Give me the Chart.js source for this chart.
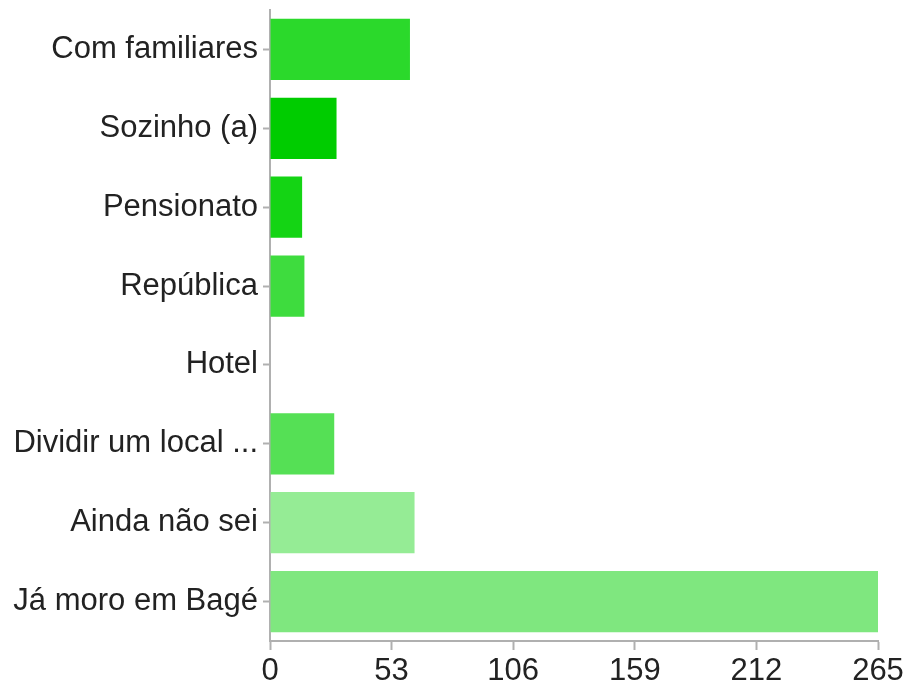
<!DOCTYPE html>
<html>
<head>
<meta charset="utf-8">
<script src="https://cdn.jsdelivr.net/npm/chart.js@4"></script>
<style>
html,body{margin:0;padding:0;background:#fff;}
#wrap{width:908px;height:685px;position:relative;}
</style>
</head>
<body>
<div id="wrap"><canvas id="c"></canvas></div>
<script>
const categories = ["Com familiares","Sozinho (a)","Pensionato","República","Hotel","Dividir um local ...","Ainda não sei","Já moro em Bagé"];
const values = [61, 29, 14, 15, 0, 28, 63, 265];
const barColors = ["#2bd92b","#00cc00","#14d414","#3edc3e","#2bd92b","#55e055","#95ec95","#7fe77f"];
const xTicks = [0, 53, 106, 159, 212, 265];

const axisColor = "#b0b0b0";
const font = {family: "'Liberation Sans', Arial, Helvetica, sans-serif", size: 31};

new Chart(document.getElementById('c'), {
  type: 'bar',
  data: {
    labels: categories,
    datasets: [{
      data: values,
      backgroundColor: barColors,
      borderWidth: 0,
      barPercentage: 0.775,
      categoryPercentage: 1.0
    }]
  },
  options: {
    indexAxis: 'y',
    responsive: true,
    maintainAspectRatio: false,
    animation: false,
    events: [],
    layout: {padding: {top: 10, right: 30, bottom: 0, left: 0}},
    plugins: {legend: {display: false}, tooltip: {enabled: false}},
    scales: {
      y: {
        type: 'category',
        offset: true,
        afterFit: s => { s.width = 270; s.paddingTop = 0; s.paddingBottom = 0; },
        grid: {display: true, drawOnChartArea: false, offset: false, color: axisColor, tickLength: 7, tickWidth: 2},
        border: {display: true, color: axisColor, width: 2},
        ticks: {color: '#222', font: font, padding: 5, autoSkip: false}
      },
      x: {
        type: 'linear',
        min: 0,
        max: 265,
        afterBuildTicks: s => { s.ticks = xTicks.map(v => ({value: v})); },
        afterFit: s => { s.height = 44; },
        grid: {display: true, drawOnChartArea: false, color: axisColor, tickLength: 9, tickWidth: 2},
        border: {display: true, color: axisColor, width: 2},
        ticks: {color: '#222', font: font, padding: 3, maxRotation: 0}
      }
    }
  }
});
</script>
</body>
</html>
